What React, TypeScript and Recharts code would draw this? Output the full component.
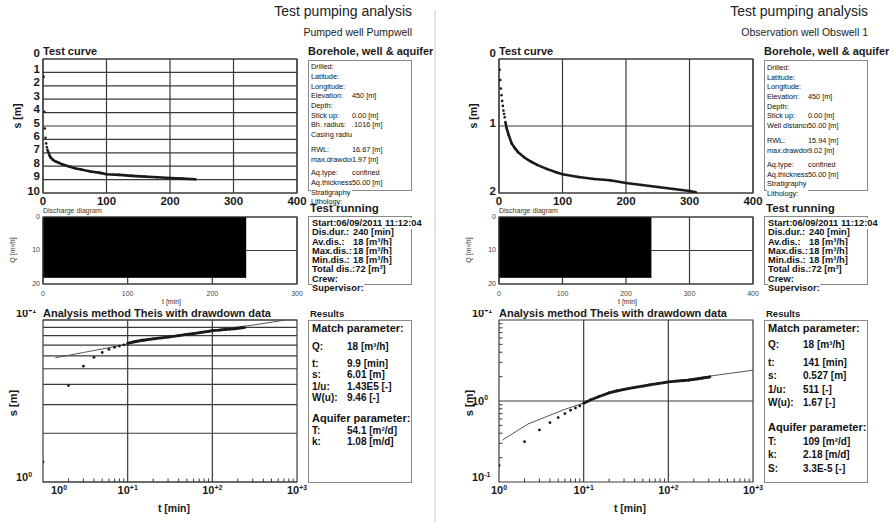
import React from 'react';
import {
  ComposedChart, Line, Scatter, Area, XAxis, YAxis, CartesianGrid, ReferenceLine, ReferenceArea,
} from 'recharts';

const FONT = '"Liberation Sans", Arial, Helvetica, sans-serif';
const INK = '#1a1a1a';
const GRID = '#3a3a3a';
const BOX = '#8a8a8a';

// ---------------- data ----------------
// Pumped well (drawdown s [m] vs time t [min])
const pumpTime = [1, 2, 3, 4, 5, 6, 7, 8, 9, 10, 12, 15, 20, 25, 30, 40, 50, 60, 75, 90, 100, 120, 140, 160, 180, 200, 220, 240];
const pumpDrawdown = [1.33, 3.94, 5.19, 5.88, 6.3, 6.59, 6.78, 6.9, 7.03, 7.17, 7.35, 7.5, 7.65, 7.75, 7.85, 8.0, 8.15, 8.25, 8.4, 8.5, 8.6, 8.65, 8.72, 8.78, 8.83, 8.88, 8.93, 8.97];
const pumpTheisTime = [1.4, 3, 10, 30, 100, 300, 730];
const pumpTheisDrawdown = [5.85, 6.3, 7.1, 7.9, 8.65, 9.3, 10];

// Observation well
const obsTime = [1, 2, 3, 4, 5, 6, 7, 8, 9, 10, 12, 15, 20, 25, 30, 40, 50, 60, 75, 90, 100, 125, 150, 175, 200, 225, 250, 275, 300, 310];
const obsDrawdown = [0.16, 0.315, 0.44, 0.54, 0.625, 0.7, 0.77, 0.82, 0.87, 0.94, 1.03, 1.13, 1.26, 1.33, 1.39, 1.47, 1.53, 1.58, 1.64, 1.69, 1.72, 1.76, 1.79, 1.81, 1.85, 1.88, 1.91, 1.94, 1.97, 1.99];
const obsTheisTime = [1.1, 2.2, 6, 10, 23, 100, 300, 1000];
const obsTheisDrawdown = [0.33, 0.52, 0.79, 0.94, 1.35, 1.72, 2.02, 2.4];

// Discharge (Q [m3/h] vs t [min])
const dischargeTime = [0, 240];
const dischargeRate = [18, 18];

// ---------------- ticks ----------------
const curveTimeTicks = [0, 100, 200, 300, 400];
const pumpCurveTicks = [0, 1, 2, 3, 4, 5, 6, 7, 8, 9, 10];
const obsCurveTicks = [0, 1, 2];
const pumpDischargeTimeTicks = [0, 100, 200, 300];
const obsDischargeTimeTicks = [0, 100, 200, 300, 400];
const dischargeTicks = [0, 10, 20];
const logTimeTicks = [1, 2, 3, 4, 5, 6, 7, 8, 9, 10, 20, 30, 40, 50, 60, 70, 80, 90, 100, 200, 300, 400, 500, 600, 700, 800, 900, 1000];
const pumpLogTicks = [1, 2, 3, 4, 5, 6, 7, 8, 9, 10];
const obsLogTicks = [0.1, 0.2, 0.3, 0.4, 0.5, 0.6, 0.7, 0.8, 0.9, 1, 2, 3, 4, 5, 6, 7, 8, 9, 10];
const logGridTime = [10, 100];

// ---------------- texts ----------------
const titleText = 'Test pumping analysis';
const pumpSubtitle = 'Pumped well Pumpwell';
const obsSubtitle = 'Observation well Obswell 1';

const pumpBorehole: (string[] | null)[] = [
  ['Drilled:', ''], ['Latitude:', ''], ['Longitude:', ''], ['Elevation:', '450 [m]'], ['Depth:', ''],
  ['Stick up:', '0.00 [m]'], ['Bh. radius:', '.1016 [m]'], ['Casing radius:', ''], null,
  ['RWL:', '16.67 [m]'], ['max.drawdown:', '1.97 [m]'], null,
  ['Aq.type:', 'confined'], ['Aq.thickness:', '50.00 [m]'], ['Stratigraphy', ''], ['Lithology:', ''],
];
const obsBorehole: (string[] | null)[] = [
  ['Drilled:', ''], ['Latitude:', ''], ['Longitude:', ''], ['Elevation:', '450 [m]'], ['Depth:', ''],
  ['Stick up:', '0.00 [m]'], ['Well distance:', '50.00 [m]'], null,
  ['RWL:', '15.94 [m]'], ['max.drawdown:', '9.02 [m]'], null,
  ['Aq.type:', 'confined'], ['Aq.thickness:', '50.00 [m]'], ['Stratigraphy', ''], ['Lithology:', ''],
];
const testRunning: (string[] | null)[] = [
  ['Start:06/09/2011 11:12:04', ''], ['Dis.dur.:', '240 [min]'], ['Av.dis.:', '18 [m³/h]'],
  ['Max.dis.:', '18 [m³/h]'], ['Min.dis.:', '18 [m³/h]'], ['Total dis.:', '72 [m³]'], ['Crew:', ''],
  ['Supervisor:', ''],
];
const pumpResults: (string[] | null)[] = [
  ['#Match parameter:', ''], null, ['Q:', '18 [m³/h]'], null, ['t:', '9.9 [min]'], ['s:', '6.01 [m]'],
  ['1/u:', '1.43E5 [-]'], ['W(u):', '9.46 [-]'], null, ['#Aquifer parameter:', ''],
  ['T:', '54.1 [m²/d]'], ['k:', '1.08 [m/d]'],
];
const obsResults: (string[] | null)[] = [
  ['#Match parameter:', ''], null, ['Q:', '18 [m³/h]'], null, ['t:', '141 [min]'], ['s:', '0.527 [m]'],
  ['1/u:', '511 [-]'], ['W(u):', '1.67 [-]'], null, ['#Aquifer parameter:', ''],
  ['T:', '109 [m²/d]'], ['k:', '2.18 [m/d]'], ['S:', '3.3E-5 [-]'],
];

// ---------------- helpers ----------------
const sup = (v: number) => {
  const e = Math.round(Math.log10(v));
  return e > 0 ? '+' + e : String(e);
};
const isDecade = (v: number) => Math.abs(Math.log10(v) - Math.round(Math.log10(v))) < 1e-9;

function Txt({ x, y, size, bold = false, anchor = 'start', color = INK, children }: any) {
  const tx = anchor === 'end' ? '-100%' : anchor === 'middle' ? '-50%' : '0';
  return (
    <div style={{
      position: 'absolute', left: x, top: y - size * 0.65, fontSize: size, lineHeight: `${size * 1.2}px`,
      fontWeight: bold ? 'bold' : 'normal', color, whiteSpace: 'nowrap', transform: `translateX(${tx})`, fontFamily: FONT,
    }}>{children}</div>
  );
}

function VTxt({ x, y, size, bold = false, color = INK, children }: any) {
  return (
    <div style={{
      position: 'absolute', left: x, top: y, fontSize: size, lineHeight: `${size * 1.2}px`,
      fontWeight: bold ? 'bold' : 'normal', color, whiteSpace: 'nowrap', fontFamily: FONT,
      transform: 'translate(-50%,-50%) rotate(-90deg)',
    }}>{children}</div>
  );
}

function Frame({ x, y, w, h }: any) {
  return <div style={{ position: 'absolute', left: x, top: y, width: w, height: h, border: `1px solid ${BOX}`, boxSizing: 'border-box' }} />;
}

function Rows({ x, y0, rows, lineH, gaps, size, labelW, clip, bold = false, headSize }: any) {
  let y = y0;
  let g = 0;
  const out: any[] = [];
  rows.forEach((r: string[] | null, i: number) => {
    if (!r) { y += gaps[g++] || 0; return; }
    const head = r[0].startsWith('#');
    const fs = head ? headSize : size;
    out.push(
      <div key={i} style={{
        position: 'absolute', left: x, top: y - fs * 0.65, fontSize: fs, lineHeight: `${fs * 1.2}px`,
        fontFamily: FONT, color: '#111', whiteSpace: 'nowrap',
        fontWeight: head || bold ? 'bold' : 'normal', background: '#fff', display: 'flex',
      }}>
        {head ? <span>{r[0].slice(1)}</span> : (
          <>
            <span style={clip ? { display: 'inline-block', width: labelW, overflow: 'hidden' } : { display: 'inline-block', minWidth: labelW }}>{r[0]}</span>
            <span>{r[1]}</span>
          </>
        )}
      </div>,
    );
    y += lineH;
  });
  return <>{out}</>;
}

const dotShape = (r: number) => (p: any) => <circle cx={p.cx} cy={p.cy} r={r} fill={INK} />;

// ---------------- charts ----------------
function TestCurve({ px, time, s, yMax, yTicks }: any) {
  const pw = 254, ph = 134, py = 59, ml = 40, mr = 16, mt = 12, mb = 22;
  const pts = time.map((t: number, i: number) => ({ t, s: s[i] }));
  const dense = pts.filter((p: any) => p.t >= 10);
  return (
    <div style={{ position: 'absolute', left: px - ml, top: py - mt }}>
      <ComposedChart width={pw + ml + mr} height={ph + mt + mb} margin={{ top: mt, right: mr, bottom: 0, left: 0 }}>
        <CartesianGrid stroke={GRID} strokeWidth={1.2} />
        <XAxis type="number" dataKey="t" domain={[0, 400]} ticks={curveTimeTicks} interval={0} height={mb}
          axisLine={false} tickLine={false} tickSize={0} tickMargin={0} allowDataOverflow
          tick={(p: any) => <text x={p.x} y={p.y + 12} textAnchor="middle" fontFamily={FONT} fontSize={11.5} fontWeight="bold" fill={INK}>{p.payload.value}</text>} />
        <YAxis type="number" dataKey="s" domain={[0, yMax]} reversed ticks={yTicks} interval={0} width={ml}
          axisLine={false} tickLine={false} tickSize={0} tickMargin={3} allowDataOverflow
          tick={(p: any) => <text x={p.x} y={p.y + (p.payload.value === 0 ? -2 : p.payload.value === yMax ? 1.5 : 0.5)} textAnchor="end" fontFamily={FONT} fontSize={11.5} fontWeight="bold" fill={INK}>{p.payload.value}</text>} />
        <ReferenceArea x1={0} x2={400} y1={0} y2={yMax} fill="none" stroke={GRID} strokeWidth={1.2} ifOverflow="visible" />
        <Line data={dense} dataKey="s" stroke={INK} strokeWidth={2.6} dot={false} isAnimationActive={false} />
        <Scatter data={pts} dataKey="s" shape={dotShape(1.3)} isAnimationActive={false} />
      </ComposedChart>
    </div>
  );
}

function Discharge({ px, xMax, xTicks }: any) {
  const pw = 254, ph = 67, py = 217, ml = 34, mr = 8, mt = 6, mb = 18;
  const data = dischargeTime.map((t, i) => ({ t, q: dischargeRate[i] }));
  const small = { fontFamily: FONT, fontSize: 7, fill: '#444' };
  return (
    <div style={{ position: 'absolute', left: px - ml, top: py - mt }}>
      <ComposedChart width={pw + ml + mr} height={ph + mt + mb} margin={{ top: mt, right: mr, bottom: 0, left: 0 }}>
        <CartesianGrid stroke={GRID} strokeWidth={1.2} />
        <XAxis type="number" dataKey="t" domain={[0, xMax]} ticks={xTicks} interval={0} height={mb}
          axisLine={false} tickLine={false} tickSize={0} tickMargin={0} allowDataOverflow
          tick={(p: any) => <text x={p.x} y={p.y + 11.5} textAnchor="middle" {...small}>{p.payload.value}</text>} />
        <YAxis type="number" dataKey="q" domain={[0, 20]} reversed ticks={dischargeTicks} interval={0} width={ml}
          axisLine={false} tickLine={false} tickSize={0} tickMargin={3} allowDataOverflow
          tick={(p: any) => <text x={p.x} y={p.y + 1.5} textAnchor="end" {...small}>{p.payload.value}</text>} />
        <Area data={data} dataKey="q" type="linear" stroke="#000" fill="#000" fillOpacity={1} baseValue={0} isAnimationActive={false} />
        <ReferenceArea x1={0} x2={xMax} y1={0} y2={20} fill="none" stroke={GRID} strokeWidth={1.2} ifOverflow="visible" />
      </ComposedChart>
    </div>
  );
}

function Pow({ x, y, v, anchor }: any) {
  return (
    <text x={x} y={y} textAnchor={anchor} fontFamily={FONT} fontSize={11} fontWeight="bold" fill={INK}>
      10<tspan dy={-4.5} fontSize={7}>{sup(v)}</tspan>
    </text>
  );
}

function LogPlot({ px, time, s, theisT, theisS, yMin, yTicks, minorGrid, firstShift }: any) {
  const pw = 254, ph = 162, py = 320, ml = 30, mr = 10, mt = 10, mb = 20;
  const pts = time.map((t: number, i: number) => ({ t, s: s[i] }));
  const dense = pts.filter((p: any) => p.t >= 10);
  const theis = theisT.map((t: number, i: number) => ({ t, s: theisS[i] }));
  return (
    <div style={{ position: 'absolute', left: px - ml, top: py - mt }}>
      <ComposedChart width={pw + ml + mr} height={ph + mt + mb} margin={{ top: mt, right: mr, bottom: 0, left: 0 }}>
        {minorGrid && <CartesianGrid stroke={GRID} strokeWidth={1.2} vertical={false} />}
        <XAxis type="number" dataKey="t" scale="log" domain={[1, 1000]} ticks={logTimeTicks} interval={0} height={mb}
          axisLine={false} tickLine={false} tickSize={0} tickMargin={0} allowDataOverflow
          tick={(p: any) => {
            const v = p.payload.value;
            if (!isDecade(v)) return <line x1={p.x} x2={p.x} y1={p.y} y2={p.y - 3.5} stroke={GRID} strokeWidth={1} />;
            return <Pow x={p.x + (v === 1 ? firstShift : 0)} y={p.y + 12} v={v} anchor="middle" />;
          }} />
        <YAxis type="number" dataKey="s" scale="log" domain={[yMin, 10]} ticks={yTicks} interval={0} width={ml}
          axisLine={false} tickLine={false} tickSize={0} tickMargin={0} allowDataOverflow
          tick={(p: any) => {
            const v = p.payload.value;
            if (!isDecade(v)) return minorGrid ? <g /> : <line x1={p.x} x2={p.x + 3.5} y1={p.y} y2={p.y} stroke={GRID} strokeWidth={1} />;
            const dy = v === 10 ? -3 : v === yMin ? -1 : 3.6;
            return <Pow x={p.x - 27} y={p.y + dy} v={v} anchor="start" />;
          }} />
        {!minorGrid && <ReferenceLine y={1} stroke={GRID} strokeWidth={1.2} />}
        {logGridTime.map((t) => <ReferenceLine key={t} x={t} stroke={GRID} strokeWidth={1.2} />)}
        <ReferenceArea x1={1} x2={1000} y1={yMin} y2={10} fill="none" stroke={GRID} strokeWidth={1.2} ifOverflow="visible" />
        <Line data={theis} dataKey="s" stroke="#555" strokeWidth={1} dot={false} isAnimationActive={false} />
        <Line data={dense} dataKey="s" stroke={INK} strokeWidth={2.8} dot={false} isAnimationActive={false} />
        <Scatter data={pts} dataKey="s" shape={dotShape(1.4)} isAnimationActive={false} />
      </ComposedChart>
    </div>
  );
}

function Panel({ dx, subtitle, time, s, theisT, theisS, curveMax, curveTicks, dischargeMax, dischargeTicksX, logMin, logTicks, minorGrid, firstShift, borehole, boreLayout, results, resLayout }: any) {
  return (
    <>
      <Txt x={412 + dx} y={12} size={14} anchor="end" color="#222">{titleText}</Txt>
      <Txt x={412 + dx} y={33} size={10.5} anchor="end" color="#222">{subtitle}</Txt>

      {/* Test curve */}
      <Txt x={43 + dx} y={52} size={11} bold>Test curve</Txt>
      <VTxt x={17 + dx} y={116} size={10.5} bold>s [m]</VTxt>
      <TestCurve px={43 + dx} time={time} s={s} yMax={curveMax} yTicks={curveTicks} />

      {/* Borehole */}
      <Txt x={308 + dx} y={52} size={11} bold>Borehole, well &amp; aquifer</Txt>
      <Frame x={308 + dx} y={60} w={104} h={131} />
      <Rows x={311 + dx} y0={boreLayout.y0} rows={borehole} lineH={boreLayout.lineH} gaps={boreLayout.gaps} size={7.3} labelW={41} clip />

      {/* Discharge */}
      <Txt x={43 + dx} y={212} size={7} color="#333">Discharge diagram</Txt>
      <VTxt x={13 + dx} y={250} size={7} color="#333">Q [m³/h]</VTxt>
      <Txt x={162 + dx} y={303} size={7} color="#333">t [min]</Txt>
      <Discharge px={43 + dx} xMax={dischargeMax} xTicks={dischargeTicksX} />

      {/* Test running */}
      <Txt x={310 + dx} y={209} size={11.5} bold>Test running</Txt>
      <Frame x={308 + dx} y={216} w={104} h={69} />
      <Rows x={312 + dx} y0={224} rows={testRunning} lineH={9.3} gaps={[]} size={9.3} labelW={41} clip={false} bold />

      {/* Log plot */}
      <LogPlot px={43 + dx} time={time} s={s} theisT={theisT} theisS={theisS} yMin={logMin} yTicks={logTicks} minorGrid={minorGrid} firstShift={firstShift} />
      <Txt x={43 + dx} y={314} size={11} bold>Analysis method Theis with drawdown data</Txt>
      <VTxt x={14 + dx} y={403} size={11} bold>s [m]</VTxt>
      <Txt x={174 + dx} y={509} size={10.5} bold anchor="middle">t [min]</Txt>

      {/* Results */}
      <Txt x={310 + dx} y={314} size={9.5} bold>Results</Txt>
      <Frame x={308 + dx} y={320} w={104} h={163} />
      <Rows x={312 + dx} y0={329} rows={results} lineH={resLayout.lineH} gaps={resLayout.gaps} size={10} headSize={11} labelW={35} clip={false} bold />
    </>
  );
}

export default function App() {
  return (
    <div style={{ position: 'absolute', left: 0, top: 0, width: 894, height: 522, background: '#fff', overflow: 'hidden', fontFamily: FONT }}>
      <div style={{ position: 'absolute', left: 434, top: 10, width: 2, height: 512, background: '#e2e2e2' }} />
      <Panel dx={0} subtitle={pumpSubtitle} time={pumpTime} s={pumpDrawdown} theisT={pumpTheisTime} theisS={pumpTheisDrawdown}
        curveMax={10} curveTicks={pumpCurveTicks} dischargeMax={300} dischargeTicksX={pumpDischargeTimeTicks}
        logMin={1} logTicks={pumpLogTicks} minorGrid firstShift={16}
        borehole={pumpBorehole} boreLayout={{ y0: 68, lineH: 9.7, gaps: [5.4, 3.6] }}
        results={pumpResults} resLayout={{ lineH: 11.5, gaps: [6.5, 5.5, 9.5] }} />
      <Panel dx={456} subtitle={obsSubtitle} time={obsTime} s={obsDrawdown} theisT={obsTheisTime} theisS={obsTheisDrawdown}
        curveMax={2} curveTicks={obsCurveTicks} dischargeMax={400} dischargeTicksX={obsDischargeTimeTicks}
        logMin={0.1} logTicks={obsLogTicks} minorGrid={false} firstShift={0}
        borehole={obsBorehole} boreLayout={{ y0: 69, lineH: 9.6, gaps: [5.8, 4.8] }}
        results={obsResults} resLayout={{ lineH: 13.5, gaps: [2.5, 4.5, 11.5] }} />
    </div>
  );
}
